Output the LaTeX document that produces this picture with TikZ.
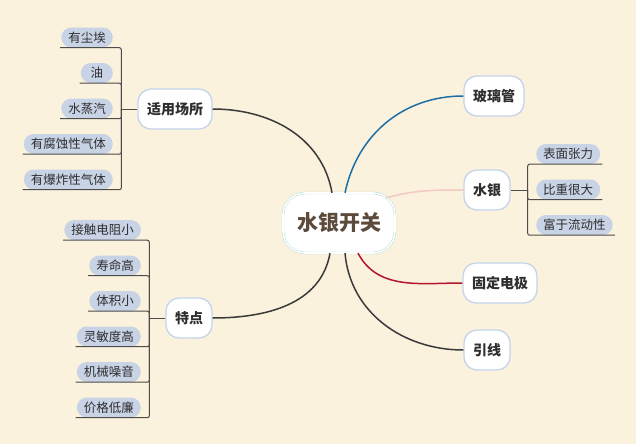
\documentclass[tikz,border=0pt]{standalone}
\usepackage{fontspec}
\setmainfont{Noto Sans CJK SC}
\usepackage{tikz}
\usetikzlibrary{positioning}
\definecolor{paper}{HTML}{FAF2DC}
\definecolor{hubline}{HTML}{A9DCD2}
\definecolor{hubtext}{HTML}{5C4A3B}
\definecolor{topicline}{HTML}{C4D4EC}
\definecolor{pill}{HTML}{C9D3E6}
\definecolor{ink}{HTML}{2E2E2E}
\definecolor{brline}{HTML}{4C4C4C}
\definecolor{wblue}{HTML}{1C6EA6}
\definecolor{wpink}{HTML}{F5C8C4}
\definecolor{wred}{HTML}{B3172C}
\definecolor{wdark}{HTML}{3A3A3A}

\begin{document}
\begin{tikzpicture}[x=1pt,y=-1pt,
  hub/.style  ={rectangle,draw=hubline,double=white,double distance=1.6pt,
                fill=white,rounded corners=22pt,
                minimum width=112pt,minimum height=60pt,
                font=\fontsize{21}{24}\selectfont\bfseries,text=hubtext},
  topic/.style={rectangle,draw=topicline,line width=1.3pt,fill=white,
                rounded corners=13pt,minimum height=40pt,inner xsep=9pt,
                font=\fontsize{14}{16}\selectfont\bfseries,text=ink},
  leaf/.style ={rectangle,fill=pill,rounded corners=10pt,
                minimum height=20pt,minimum width=32pt,
                inner xsep=7pt,inner ysep=0pt,
                font=\fontsize{12.5}{14}\selectfont,text=ink},
  br/.style   ={draw=brline,line width=1pt,rounded corners=2pt},
  wire/.style ={line width=1.5pt}
]
\useasboundingbox (0,0) rectangle (640,447);
\fill[white] (0,0) rectangle (640,447);
\fill[paper] (0,0) rectangle (636,444);

% main topics
\node[hub]   (hub)   at (339,223) {水银开关};
\node[topic] (glass) at (494,96)  {玻璃管};
\node[topic] (merc)  at (487,190) {水银};
\node[topic] (elec)  at (500,283) {固定电极};
\node[topic] (lead)  at (487,350) {引线};
\node[topic] (place) at (175,109) {适用场所};
\node[topic] (feat)  at (189,318) {特点};

% leaves
\foreach \t [count=\i] in {有尘埃,油,水蒸汽,有腐蚀性气体,有爆炸性气体}
  \node[leaf,anchor=east] (u\i) at (113,{2+35.5*\i}) {\t};
\foreach \t [count=\i] in {接触电阻小,寿命高,体积小,灵敏度高,机械噪音,价格低廉}
  \node[leaf,anchor=east] (f\i) at (141,{194.5+35.5*\i}) {\t};
\foreach \t [count=\i] in {表面张力,比重很大,富于流动性}
  \node[leaf,anchor=west] (m\i) at (536,{118.5+35.5*\i}) {\t};

% brackets
\coordinate[left=16pt of place.west] (jp);
\coordinate[left=16pt of feat.west]  (jf);
\coordinate[right=17pt of merc.east] (jm);
\foreach \i in {1,...,5}
  \draw[br] ([xshift=-1pt]u\i.south west) -| (jp);
\foreach \i in {1,...,6}
  \draw[br] ([xshift=-1pt]f\i.south west) -| (jf);
\foreach \i in {1,...,3}
  \draw[br] ([xshift=2pt]m\i.south east) -| (jm);
\draw[br] (jp) -- (place);
\draw[br] (jf) -- (feat);
\draw[br] (jm) -- (merc);

% branches
\draw[wire,wblue] ([xshift=6pt]hub.north)   to[out=78,in=180]  (glass);
\draw[wire,wpink] ([xshift=-9pt,yshift=-5pt]hub.north east)
                                            to[out=15,in=180]  (merc);
\draw[wire,wred]  ([xshift=19pt]hub.south)  to[out=-62,in=180] (elec);
\draw[wire,wdark] ([xshift=6pt]hub.south)   to[out=-85,in=180] (lead);
\draw[wire,wdark] ([xshift=-7pt]hub.north)  to[out=100,in=0]   (place);
\draw[wire,wdark] ([xshift=-9pt]hub.south)  to[out=-100,in=0]  (feat);
\end{tikzpicture}
\end{document}
